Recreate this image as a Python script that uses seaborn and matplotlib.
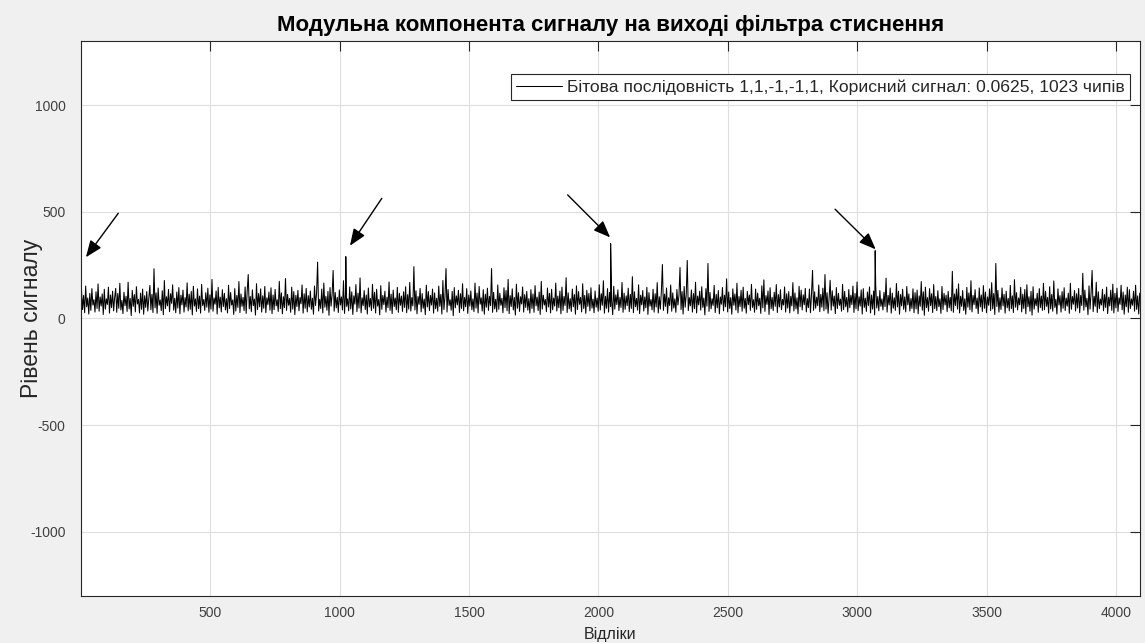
import numpy as np
import pandas as pd
import matplotlib
matplotlib.use("Agg")
import matplotlib.pyplot as plt
import seaborn as sns

# ---- labels -------------------------------------------------------------
title_text = "Модульна компонента сигналу на виході фільтра стиснення"
x_label = "Відліки"
y_label = "Рівень сигналу"
legend_text = "Бітова послідовність 1,1,-1,-1,1, Корисний сигнал: 0.0625, 1023 чипів"

x_ticks = [500, 1000, 1500, 2000, 2500, 3000, 3500, 4000]
y_ticks = [-1000, -500, 0, 500, 1000]

# ---- correlation peaks (one per code period) ----------------------------
peak_samples = [1, 1024, 2047, 3069]
peak_levels = [262, 290, 351, 318]

# ---- magnitude of the filter output between the peaks (every 4th sample) -
noise_start = 3
noise_step = 4
noise_levels = [
    131, 42, 108, 27, 152, 55, 96, 21, 118, 38, 140, 63, 88, 30, 125, 47, 162, 34, 101, 58, 115, 19, 137, 44, 92, 66, 147, 25, 110, 51, 128,
    36, 99, 141, 29, 117, 48, 165, 40, 85, 23, 123, 60, 104, 33, 170, 45, 94, 14, 132, 57, 112, 31, 149, 68, 90, 26, 119, 43, 138, 20, 107,
    52, 126, 35, 97, 155, 41, 113, 28, 233, 50, 120, 24, 143, 62, 87, 37, 130, 18, 178, 46, 102, 59, 136, 32, 116, 71, 158, 39, 95, 27, 124,
    49, 145, 22, 109, 64, 133, 30, 98, 54, 167, 36, 114, 43, 127, 17, 151, 58, 92, 33, 139, 46, 105, 25, 160, 61, 89, 38, 121, 53, 142, 29,
    111, 44, 183, 34, 96, 67, 129, 21, 146, 50, 100, 31, 135, 56, 118, 40, 93, 26, 156, 47, 122, 63, 87, 19, 140, 35, 108, 52, 173, 28, 115,
    57, 99, 37, 148, 24, 128, 206, 45, 103, 32, 134, 60, 91, 16, 163, 42, 117, 55, 139, 30, 106, 48, 150, 27, 97, 65, 124, 39, 144, 23, 110,
    41, 136, 59, 88, 33, 174, 46, 120, 22, 102, 51, 187, 38, 113, 62, 94, 29, 147, 44, 126, 18, 109, 56, 132, 36, 98, 69, 157, 25, 116, 48,
    141, 31, 107, 54, 129, 43, 95, 20, 152, 61, 118, 264, 35, 90, 47, 138, 26, 166, 53, 104, 39, 127, 15, 145, 58, 112, 225, 34, 122, 50, 99,
    28, 134, 63, 101, 40, 177, 24, 115, 57, 92, 36, 148, 45, 125, 19, 106, 67, 159, 32, 119, 49, 190, 27, 97, 60, 131, 42, 110, 21, 143, 54,
    94, 37, 160, 48, 123, 26, 137, 58, 89, 17, 154, 43, 108, 65, 128, 30, 100, 51, 171, 38, 114, 23, 133, 56, 96, 41, 146, 29, 118, 62, 105,
    33, 125, 52, 149, 27, 112, 44, 169, 35, 98, 59, 243, 40, 130, 22, 103, 66, 141, 31, 117, 48, 91, 18, 156, 54, 126, 37, 108, 63, 138, 25,
    120, 46, 95, 34, 152, 57, 113, 21, 178, 42, 101, 234, 30, 136, 61, 88, 39, 127, 13, 145, 50, 106, 64, 132, 28, 116, 47, 163, 36, 99, 55,
    140, 24, 110, 58, 129, 41, 92, 32, 166, 49, 119, 26, 150, 67, 97, 35, 135, 20, 114, 53, 142, 38, 104, 60, 234, 29, 123, 45, 90, 31, 157,
    43, 118, 62, 95, 27, 144, 51, 131, 36, 183, 23, 107, 56, 139, 40, 98, 16, 161, 48, 121, 33, 102, 68, 148, 30, 112, 52, 127, 39, 93, 25,
    135, 47, 115, 29, 154, 59, 100, 37, 124, 19, 174, 44, 109, 63, 89, 32, 143, 54, 118, 26, 137, 41, 96, 58, 166, 35, 105, 50, 128, 22, 147,
    38, 103, 61, 191, 28, 120, 45, 93, 33, 138, 55, 112, 20, 153, 42, 126, 66, 99, 31, 163, 47, 108, 24, 132, 57, 117, 36, 144, 49, 91, 27,
    129, 53, 96, 34, 158, 40, 116, 62, 177, 25, 104, 48, 140, 30, 122, 57, 87, 18, 151, 44, 111, 65, 134, 37, 99, 52, 169, 29, 119, 43, 106,
    60, 142, 32, 113, 47, 196, 27, 125, 55, 94, 39, 158, 23, 109, 64, 131, 35, 101, 50, 146, 19, 121, 58, 89, 41, 137, 30, 116, 54, 168, 26,
    102, 44, 127, 253, 38, 114, 57, 143, 24, 97, 61, 157, 34, 120, 49, 92, 29, 136, 63, 108, 239, 42, 126, 21, 150, 53, 111, 272, 37, 98, 59,
    134, 30, 117, 46, 170, 26, 105, 64, 128, 39, 149, 52, 96, 17, 140, 58, 258, 33, 122, 45, 93, 61, 155, 28, 113, 50, 131, 22, 101, 67, 145,
    36, 109, 55, 186, 31, 124, 47, 98, 20, 139, 62, 115, 40, 165, 27, 103, 56, 132, 34, 147, 48, 94, 25, 127, 65, 110, 38, 160, 52, 88, 29,
    138, 43, 119, 60, 95, 24, 153, 50, 181, 33, 107, 66, 129, 19, 144, 46, 99, 37, 123, 57, 159, 28, 112, 54, 135, 41, 90, 63, 148, 30, 116,
    49, 126, 26, 104, 59, 168, 35, 120, 45, 97, 22, 151, 55, 133, 40, 111, 64, 141, 31, 93, 51, 138, 27, 114, 225, 38, 125, 48, 100, 60, 157,
    32, 113, 53, 142, 36, 206, 44, 121, 24, 96, 179, 39, 130, 58, 105, 23, 145, 47, 118, 62, 91, 34, 160, 42, 127, 55, 99, 30, 136, 50, 109,
    65, 152, 28, 117, 46, 171, 37, 102, 58, 134, 21, 140, 52, 95, 33, 124, 61, 148, 26, 110, 44, 129, 17, 156, 49, 103, 36, 131, 57, 92, 40,
    123, 56, 189, 30, 108, 63, 143, 25, 119, 48, 97, 38, 164, 54, 128, 20, 112, 59, 137, 43, 101, 31, 150, 64, 115, 35, 94, 47, 139, 27, 121,
    45, 133, 22, 106, 57, 173, 39, 125, 15, 147, 51, 98, 34, 140, 60, 116, 28, 159, 46, 103, 37, 130, 55, 92, 24, 150, 42, 118, 63, 109, 32,
    127, 50, 99, 36, 221, 29, 115, 61, 138, 44, 162, 26, 104, 57, 131, 38, 92, 20, 146, 53, 120, 41, 177, 31, 108, 65, 135, 47, 96, 23, 143,
    54, 110, 33, 154, 48, 124, 27, 101, 62, 139, 37, 168, 45, 117, 19, 258, 56, 132, 30, 97, 42, 143, 59, 113, 25, 128, 50, 94, 36, 155, 46,
    106, 28, 182, 53, 121, 40, 96, 64, 146, 31, 114, 47, 136, 22, 158, 55, 102, 34, 127, 16, 149, 44, 93, 60, 118, 29, 140, 51, 105, 38, 165,
    41, 128, 57, 99, 25, 149, 45, 113, 34, 176, 52, 90, 21, 139, 63, 107, 30, 126, 48, 144, 37, 96, 58, 119, 24, 165, 43, 103, 67, 131, 35,
    116, 49, 141, 27, 108, 61, 212, 39, 133, 54, 95, 18, 153, 44, 120, 225, 32, 104, 57, 170, 28, 125, 46, 91, 63, 137, 36, 112, 52, 147, 23,
    100, 59, 133, 38, 161, 26, 118, 50, 142, 33, 97, 66, 156, 41, 124, 20, 110, 55, 147, 29, 135, 47, 92, 62, 128, 34, 156, 43, 106, 21, 119,
]

# ---- arrows pointing at the correlation peaks (tail -> head) -------------
arrow_tails = [(145, 493), (1163, 563), (1881, 579), (2914, 512)]
arrow_heads = [(20, 287), (1040, 341), (2045, 380), (3071, 324)]

# ---- assemble the trace --------------------------------------------------
noise_x = noise_start + noise_step * np.arange(len(noise_levels))
df = pd.DataFrame({
    "sample": np.concatenate([noise_x, peak_samples]),
    "level": np.concatenate([noise_levels, peak_levels]),
}).sort_values("sample", kind="mergesort").reset_index(drop=True)

sns.set_style("white")
plt.rcParams["font.family"] = ["Liberation Sans", "DejaVu Sans"]

fig = plt.figure(figsize=(11.45, 6.43), dpi=100, facecolor="#f0f0f0")
ax = fig.add_axes([81 / 1145, 1 - 596 / 643, 1059 / 1145, 555 / 643])
ax.set_facecolor("white")

sns.lineplot(data=df, x="sample", y="level", ax=ax, color="black",
             linewidth=0.75, estimator=None, sort=False, label=legend_text)

ax.set_xlim(1, 4092)
ax.set_ylim(-1300, 1300)
ax.set_xticks(x_ticks)
ax.set_yticks(y_ticks)
ax.set_yticklabels([str(v) for v in y_ticks])
ax.grid(True, color="#dfdfdf", linewidth=0.8)
ax.set_axisbelow(True)

for s in ax.spines.values():
    s.set_color("#262626")
    s.set_linewidth(0.8)
ax.tick_params(direction="in", length=7, width=0.8, color="#262626",
               labelcolor="#404040", labelsize=10, top=True, right=True)
ax.tick_params(axis="y", pad=11)
ax.tick_params(axis="x", pad=7)

ax.set_title(title_text, fontsize=16, fontweight="bold", color="black", pad=7)
ax.set_xlabel(x_label, fontsize=11.5, color="#262626", labelpad=5)
ax.set_ylabel(y_label, fontsize=16.5, color="#262626")
ax.yaxis.set_label_coords(-0.036, 0.5)

for (tx, ty), (hx, hy) in zip(arrow_tails, arrow_heads):
    ax.annotate("", xy=(hx, hy), xytext=(tx, ty),
                arrowprops=dict(arrowstyle="-|>,head_length=0.85,head_width=0.34",
                                mutation_scale=12, color="black", lw=1.0,
                                shrinkA=0, shrinkB=0))

leg = ax.legend(loc="upper right", bbox_to_anchor=(0.9906, 0.9405),
                borderaxespad=0, fontsize=12.6, frameon=True, fancybox=False,
                handlelength=2.6, handletextpad=0.3, borderpad=0.3)
leg.get_frame().set_edgecolor("#262626")
leg.get_frame().set_linewidth(0.8)
leg.get_frame().set_facecolor("white")
leg.get_frame().set_alpha(1)

fig.savefig("out.png", dpi=100, facecolor=fig.get_facecolor())
